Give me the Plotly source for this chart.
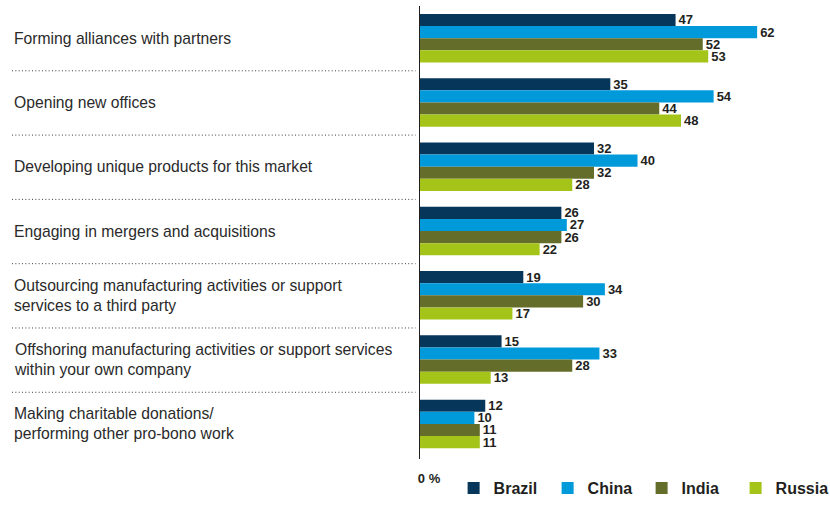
import plotly.graph_objects as go

# Strategies, top to bottom (line breaks as displayed)
categories = [
    "Forming alliances with partners",
    "Opening new offices",
    "Developing unique products for this market",
    "Engaging in mergers and acquisitions",
    "Outsourcing manufacturing activities or support<br>services to a third party",
    "Offshoring manufacturing activities or support services<br>within your own company",
    "Making charitable donations/<br>performing other pro-bono work",
]

series_names = ["Brazil", "China", "India", "Russia"]
brazil = [47, 35, 32, 26, 19, 15, 12]
china = [62, 54, 40, 27, 34, 33, 10]
india = [52, 44, 32, 26, 30, 28, 11]
russia = [53, 48, 28, 22, 17, 13, 11]
series_values = [brazil, china, india, russia]

colors = ["#06365a", "#0099da", "#656d2a", "#a4c41a"]

x_tick_vals = [0]
x_tick_text = ["0 %"]

FONT = "Liberation Sans, Arial, sans-serif"
TEXT_DARK = "#231f20"

fig = go.Figure()
for name, vals, col in zip(series_names, series_values, colors):
    fig.add_trace(go.Bar(
        name=name,
        y=categories,
        x=vals,
        orientation="h",
        marker=dict(color=col, line=dict(width=0)),
        text=vals,
        texttemplate="%{text}",
        textposition="outside",
        constraintext="none",
        cliponaxis=False,
        textfont=dict(family=FONT, size=13, color=TEXT_DARK, weight="bold"),
        hoverinfo="skip",
    ))

# Category labels, left-aligned in the left margin
annotations = []
for cat in categories:
    annotations.append(dict(
        text=cat, xref="paper", x=-0.9951, xanchor="left",
        yref="y", y=cat, yanchor="middle", align="left",
        showarrow=False,
        font=dict(family=FONT, size=15.7, color="#2a2a2a"),
    ))

# Dotted separators between category groups
shapes = []
for k in range(len(categories) - 1):
    yk = k + 0.5 + 0.008
    shapes.append(dict(
        type="line", xref="paper", yref="y",
        x0=-0.9951, x1=-0.0110, y0=yk, y1=yk,
        line=dict(color="#3a3a3a", width=1, dash="1px,2.33px"),
    ))

fig.update_layout(
    width=830, height=505,
    margin=dict(l=420, r=0, t=6, b=41),
    paper_bgcolor="white", plot_bgcolor="white",
    barmode="group", bargap=0.246, bargroupgap=0,
    font=dict(family=FONT, color=TEXT_DARK),
    xaxis=dict(
        range=[0, 75.4], showgrid=False, zeroline=False, showline=False,
        tickmode="array", tickvals=x_tick_vals, ticktext=x_tick_text,
        ticks="", ticklabelshift=9, ticklabelstandoff=10,
        tickfont=dict(family=FONT, size=13, color=TEXT_DARK, weight="bold"),
        fixedrange=True,
    ),
    yaxis=dict(
        range=[6.546, -0.5], showgrid=False, zeroline=False,
        showline=True, linecolor=TEXT_DARK, linewidth=1,
        showticklabels=False, ticks="", fixedrange=True,
    ),
    legend=dict(
        orientation="h", x=0.082, xanchor="left", y=-0.0644, yanchor="middle",
        traceorder="normal", entrywidth=49, entrywidthmode="pixels",
        font=dict(family=FONT, size=16, color=TEXT_DARK, weight="bold"),
        bgcolor="rgba(0,0,0,0)",
    ),
    annotations=annotations,
    shapes=shapes,
    showlegend=True,
)

fig.write_html("out.html")
